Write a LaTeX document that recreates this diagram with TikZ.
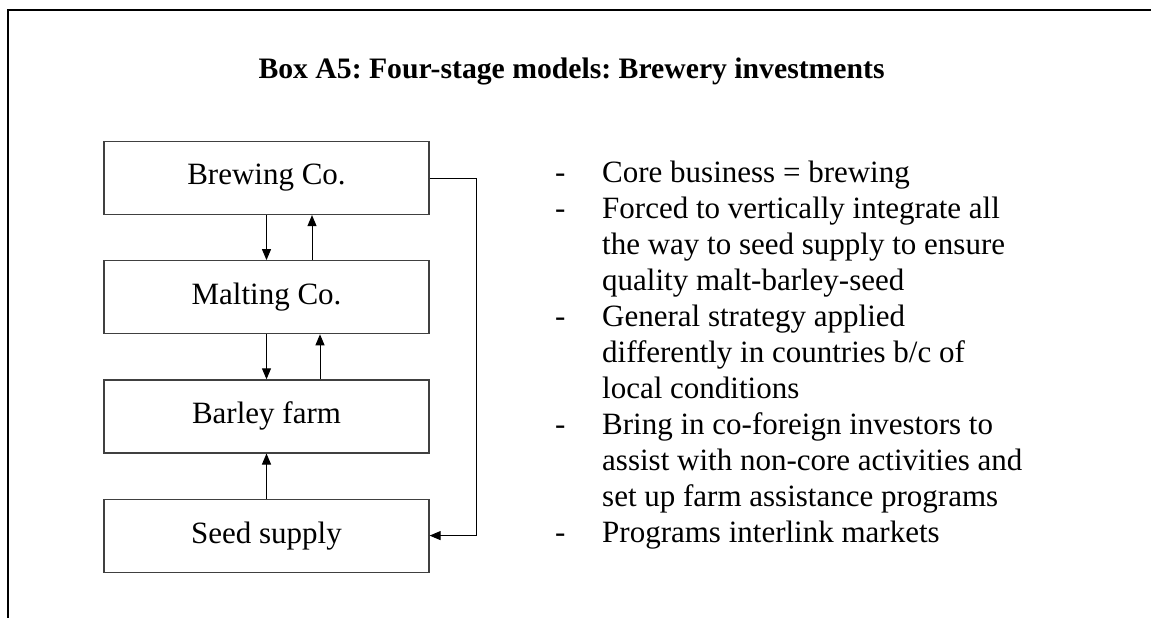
\documentclass[tikz,border=0pt]{standalone}
\usepackage{fontspec}
\setmainfont{Liberation Serif}
\usetikzlibrary{positioning,arrows.meta}
\frenchspacing

\begin{document}
\begin{tikzpicture}[
            x = 1pt, y = -1pt, % pixel-like units, y runs downwards
            > = {Triangle[length=11pt,width=9pt]}, % arrow head style
            node distance = 45pt, % gap between the stage boxes
        ]

        \tikzstyle{stage}=[
            draw = black!75,
            line width = 1.2pt,
            minimum width = 325pt,
            minimum height = 73pt,
            inner sep = 0pt,
            font = \fontsize{31}{36}\selectfont
        ]
        \tikzstyle{link}=[draw, line width = 1pt]

  \useasboundingbox (0,0) rectangle (1151,618);
  % outer frame, it runs off the page right and bottom
  \draw[line width=2pt] (8,618) -- (8,10) -- (1151,10);

  \node[anchor=base west, font=\bfseries\fontsize{29.7}{36}\selectfont] (title) at (255,78) {Box A5: Four-stage models: Brewery investments};

  \node[stage] (brew) at (266.5,178) {Brewing Co.};
  \node[stage, below=of brew] (malt) {Malting Co.};
  \node[stage, below=of malt] (barley) {Barley farm};
  \node[stage, below=of barley] (seed) {Seed supply};

  \path[link,->] (brew) edge (malt);
  \path[link,->] (malt) edge (barley);
  \path[link,->] (seed) edge (barley);
  \draw[link,->] ([xshift=45.5pt]malt.north) -- ([xshift=45.5pt]brew.south);
  \draw[link,->] ([xshift=53.5pt]barley.north) -- ([xshift=53.5pt]malt.south);
  \draw[link,->] (brew.east) -- ++(47,0) |- (seed.east);

  \node[anchor=north west, inner sep=0pt, font=\fontsize{31}{36}\selectfont] (notes) at (555,156.8) {%
    \begin{tabular}{@{}p{47pt}@{}l@{}}
    - & Core business = brewing\\
    - & Forced to vertically integrate all\\
      & the way to seed supply to ensure\\
      & quality malt-barley-seed\\
    - & General strategy applied\\
      & differently in countries b/c of\\
      & local conditions\\
    - & Bring in co-foreign investors to\\
      & assist with non-core activities and\\
      & set up farm assistance programs\\
    - & Programs interlink markets
    \end{tabular}};

\end{tikzpicture}
\end{document}
